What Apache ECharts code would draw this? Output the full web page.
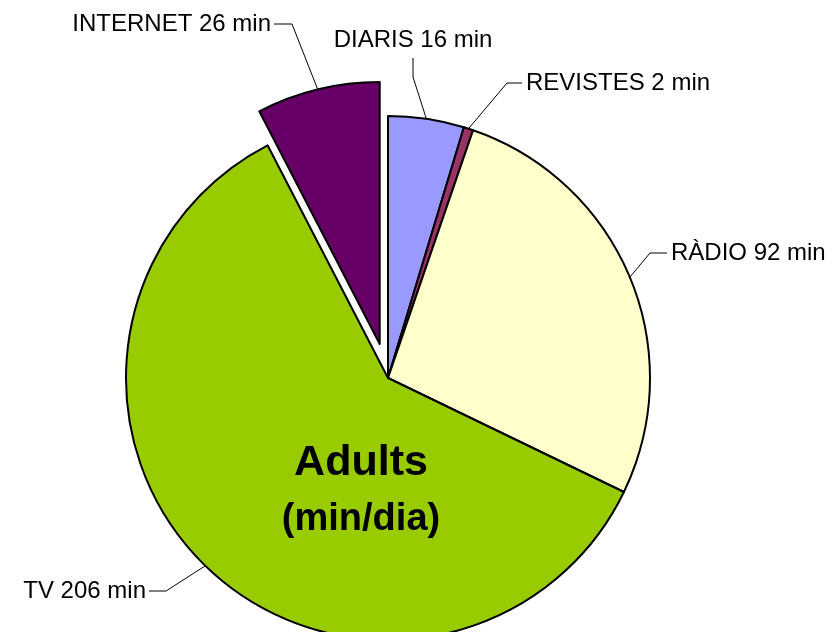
<!DOCTYPE html>
<html>
<head>
<meta charset="utf-8">
<script src="https://cdn.jsdelivr.net/npm/echarts@6/dist/echarts.min.js"></script>
<style>
  html, body { margin: 0; padding: 0; background: #fff; }
  #chart { width: 834px; height: 632px; }
</style>
</head>
<body>
<div id="chart"></div>
<script>
// minuts al dia, adults
const categories = ['DIARIS', 'REVISTES', 'RÀDIO', 'TV', 'INTERNET'];
const minutes = [16, 2, 92, 206, 26];
const explodedName = 'INTERNET';

const colors = ['#9999ff', '#993366', '#ffffcc', '#99cc00', '#660066'];

// label anchor, text align, elbow of the leader line and its end next to the text
const labelPlaces = [
  { x: 413, y: 40, align: 'center', bend: [413, 77], end: [413, 58] },
  { x: 526, y: 83, align: 'left', bend: [507, 83], end: [522, 83] },
  { x: 671, y: 253, align: 'left', bend: [650, 253], end: [667, 253] },
  { x: 146, y: 591, align: 'right', bend: [166, 591], end: [149, 591] },
  { x: 271, y: 24, align: 'right', bend: [292, 24], end: [274, 24] }
];

const font = '"Liberation Sans", Arial, sans-serif';
const center = [388, 378];
const radius = 262;
const explodeBy = 35;

// direction of the exploded slice (angle from 12 o'clock, clockwise)
const total = minutes.reduce((a, b) => a + b, 0);
const explodedIdx = categories.indexOf(explodedName);
const before = minutes.slice(0, explodedIdx).reduce((a, b) => a + b, 0);
const midAngle = (before + minutes[explodedIdx] / 2) / total * 2 * Math.PI;
const explodedCenter = [
  center[0] + explodeBy * Math.sin(midAngle),
  center[1] - explodeBy * Math.cos(midAngle)
];

const hidden = {
  itemStyle: { color: 'transparent', borderWidth: 0 },
  label: { show: false },
  labelLine: { show: false }
};

// main pie: the exploded slice is left empty here
const mainData = categories.map((name, i) => name === explodedName
  ? Object.assign({ name: name, value: minutes[i] }, hidden)
  : { name: name, value: minutes[i], itemStyle: { color: colors[i] } });

// second pie, moved out: only the exploded slice shows
const explodedData = categories.map((name, i) => name === explodedName
  ? { name: name, value: minutes[i], itemStyle: { color: colors[i] } }
  : Object.assign({ name: name, value: minutes[i] }, hidden));

function placeLabel(params) {
  const p = labelPlaces[params.dataIndex];
  const start = params.labelLinePoints ? params.labelLinePoints[0] : p.bend;
  return {
    x: p.x,
    y: p.y,
    align: p.align,
    verticalAlign: 'middle',
    labelLinePoints: [start, p.bend, p.end]
  };
}

const pieBase = {
  type: 'pie',
  radius: radius,
  startAngle: 90,
  clockwise: true,
  avoidLabelOverlap: false,
  silent: true,
  itemStyle: { borderColor: '#000', borderWidth: 2 },
  emphasis: { disabled: true },
  label: {
    show: true,
    position: 'outside',
    formatter: '{b} {c} min',
    color: '#000',
    fontSize: 24,
    fontFamily: font
  },
  labelLine: {
    show: true,
    length: 20,
    length2: 15,
    lineStyle: { color: '#000', width: 1 }
  },
  labelLayout: placeLabel
};

const chart = echarts.init(document.getElementById('chart'));

chart.setOption({
  animation: false,
  backgroundColor: '#fff',
  graphic: [
    {
      type: 'text',
      z: 100,
      style: {
        text: 'Adults', x: 361, y: 463,
        align: 'center', verticalAlign: 'middle',
        font: 'bold 43px ' + font, fill: '#000'
      }
    },
    {
      type: 'text',
      z: 100,
      style: {
        text: '(min/dia)', x: 361, y: 520,
        align: 'center', verticalAlign: 'middle',
        font: 'bold 38px ' + font, fill: '#000'
      }
    }
  ],
  series: [
    Object.assign({}, pieBase, { center: center, data: mainData }),
    Object.assign({}, pieBase, { center: explodedCenter, data: explodedData })
  ]
});
</script>
</body>
</html>
